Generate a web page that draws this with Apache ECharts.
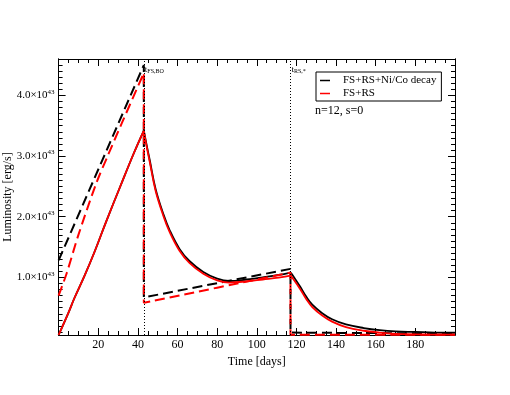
<!DOCTYPE html>
<html>
<head>
<meta charset="utf-8">
<script src="https://cdn.jsdelivr.net/npm/echarts@6/dist/echarts.min.js"></script>
<style>
  html, body { margin: 0; padding: 0; background: #fff; }
  #chart { width: 510px; height: 395px; }
</style>
</head>
<body>
<div id="chart"></div>
<script>
// time in days, luminosity in units of 1e43 erg/s
// null marks a break between the rise, the decay and the tail (sharp corners at 43 and 117 days)
const solidDays = [0, 5, 8, 13, 18, 24, 31, 38, 43,
                   43, 43, 44, 46, 49, 53, 56, 61, 66, 73, 80, 86, 95, 103, 111, 117,
                   117, 117, 118, 122, 125, 128, 133, 138, 145, 154, 162, 170, 180, 190, 200];
const solidNiCo = [0.05, 0.42, 0.66, 1.02, 1.41, 1.92, 2.49, 3.05, 3.42,
                   null, 3.42, 3.25, 2.93, 2.45, 2.03, 1.78, 1.47, 1.27, 1.09, 0.98, 0.94, 0.965, 1.00, 1.04, 1.08,
                   null, 1.08, 1.04, 0.84, 0.68, 0.55, 0.41, 0.31, 0.225, 0.165, 0.13, 0.11, 0.10, 0.09, 0.087];
const solidFsRs = [0.05, 0.42, 0.66, 1.02, 1.41, 1.92, 2.49, 3.05, 3.42,
                   null, 3.42, 3.23, 2.90, 2.42, 2.00, 1.75, 1.44, 1.24, 1.06, 0.95, 0.915, 0.935, 0.965, 0.995, 1.03,
                   null, 1.03, 0.99, 0.80, 0.64, 0.51, 0.37, 0.27, 0.18, 0.12, 0.09, 0.07, 0.06, 0.057, 0.056];

const dashNiCoDays = [0, 43, 43, 117, 117, 140, 170, 200];
const dashNiCo = [1.28, 4.50, 0.67, 1.14, 0.09, 0.085, 0.08, 0.08];
const dashFsRsDays = [0, 4, 10, 19, 25, 32, 43, 43, 117, 117, 200];
const dashFsRs = [0.70, 1.06, 1.70, 2.55, 3.02, 3.55, 4.37, 0.58, 1.08, 0.056, 0.056];

const markDays = [43, 117];
const markNames = ['FS,BO', 'RS,*'];
const yMajor = [1, 2, 3, 4];
const yMin = 0.05, yMax = 4.6;

const yMinor = [];
for (let i = 1; i <= 45; i++) yMinor.push(i / 10);

const font = 'Liberation Serif';
const pairs = (xs, ys) => xs.map((x, i) => [x, ys[i]]);

const chart = echarts.init(document.getElementById('chart'));

const yBase = {
    type: 'value', min: yMin, max: yMax,
    axisLine: { show: true, lineStyle: { color: '#000', width: 1 } },
    splitLine: { show: false },
    axisLabel: { show: false }
};

chart.setOption({
    animation: false,
    backgroundColor: '#fff',
    textStyle: { fontFamily: font },
    grid: { left: 58.6, right: 55, top: 59, bottom: 60, containLabel: false, outerBoundsMode: 'none' },
    legend: {
        data: ['FS+RS+Ni/Co decay', 'FS+RS'],
        orient: 'vertical',
        left: 316, top: 72,
        borderColor: '#000', borderWidth: 1,
        padding: [2, 5, 1, 4],
        icon: 'rect', itemWidth: 10, itemHeight: 1.5, itemGap: 0,
        textStyle: { fontFamily: font, fontSize: 11, color: '#000', lineHeight: 13, padding: [0, 0, 0, 8] }
    },
    xAxis: [{
        type: 'value', min: 0, max: 200, interval: 20,
        name: 'Time [days]', nameLocation: 'middle', nameGap: 20,
        nameTextStyle: { fontFamily: font, fontSize: 12, color: '#000' },
        axisLine: { lineStyle: { color: '#000', width: 1 } },
        axisTick: { inside: true, length: 7, lineStyle: { color: '#000' } },
        minorTick: { show: true, splitNumber: 4, length: 4, lineStyle: { color: '#000' } },
        axisLabel: { showMinLabel: false, showMaxLabel: false, margin: 4, fontFamily: font, fontSize: 12, color: '#000' },
        splitLine: { show: false }
    }, {
        type: 'value', min: 0, max: 200, interval: 20, position: 'top',
        axisLine: { lineStyle: { color: '#000', width: 1 } },
        axisTick: { inside: true, length: 7, lineStyle: { color: '#000' } },
        minorTick: { show: true, splitNumber: 4, length: 4, lineStyle: { color: '#000' } },
        axisLabel: { show: false },
        splitLine: { show: false }
    }],
    yAxis: [
        Object.assign({}, yBase, {
            position: 'left',
            name: 'Luminosity [erg/s]', nameLocation: 'middle', nameGap: 45, nameMoveOverlap: false,
            nameTextStyle: { fontFamily: font, fontSize: 12, color: '#000' },
            axisTick: { inside: true, length: 7, customValues: yMajor, lineStyle: { color: '#000' } },
            axisLabel: {
                show: true, customValues: yMajor, margin: 4,
                formatter: v => '{m|' + v.toFixed(1) + '×10}{s|43}',
                rich: {
                    m: { fontFamily: font, fontSize: 11, color: '#000' },
                    s: { fontFamily: font, fontSize: 7, color: '#000', padding: [0, 0, 7, 0] }
                }
            }
        }),
        Object.assign({}, yBase, {
            position: 'left',
            axisTick: { inside: true, length: 4, customValues: yMinor, lineStyle: { color: '#000' } }
        }),
        Object.assign({}, yBase, {
            position: 'right',
            axisTick: { inside: true, length: 7, customValues: yMajor, lineStyle: { color: '#000' } }
        }),
        Object.assign({}, yBase, {
            position: 'right',
            axisTick: { inside: true, length: 4, customValues: yMinor, lineStyle: { color: '#000' } }
        })
    ],
    series: [{
        name: 'FS+RS+Ni/Co decay', type: 'line', symbol: 'none', color: '#000', smooth: 0.4,
        lineStyle: { color: '#000', width: 1.8 },
        data: pairs(solidDays, solidNiCo),
        markLine: {
            silent: true, symbol: 'none', label: { show: false },
            lineStyle: { type: [1, 2], color: '#000', width: 1 },
            data: markDays.map(d => ({ xAxis: d }))
        }
    }, {
        name: 'FS+RS+Ni/Co decay (dashed)', type: 'line', symbol: 'none', color: '#000',
        lineStyle: { color: '#000', width: 2, type: [10, 5] },
        data: pairs(dashNiCoDays, dashNiCo)
    }, {
        name: 'FS+RS', type: 'line', symbol: 'none', color: '#ff0000', smooth: 0.4,
        lineStyle: { color: '#ff0000', width: 1.8 },
        data: pairs(solidDays, solidFsRs)
    }, {
        name: 'FS+RS (dashed)', type: 'line', symbol: 'none', color: '#ff0000', smooth: 0.3,
        lineStyle: { color: '#ff0000', width: 2, type: [10, 5] },
        data: pairs(dashFsRsDays, dashFsRs)
    }]
});

// t labels next to the dotted lines, placed through the axis scales
chart.setOption({
    graphic: markDays.map((d, i) => {
        const p = chart.convertToPixel({ gridIndex: 0 }, [d, yMax]);
        return {
            type: 'text', left: p[0] + 1, top: p[1] + 6, silent: true,
            style: {
                text: '{t|t}{s|' + markNames[i] + '}',
                rich: {
                    t: { fontFamily: font, fontSize: 9, fill: '#000' },
                    s: { fontFamily: font, fontSize: 6, fill: '#000', padding: [4, 0, 0, 0] }
                }
            }
        };
    }).concat([{
        type: 'text', left: 315, top: 105, silent: true,
        style: { text: 'n=12, s=0', fontFamily: font, fontSize: 12, fill: '#000' }
    }])
});
</script>
</body>
</html>
